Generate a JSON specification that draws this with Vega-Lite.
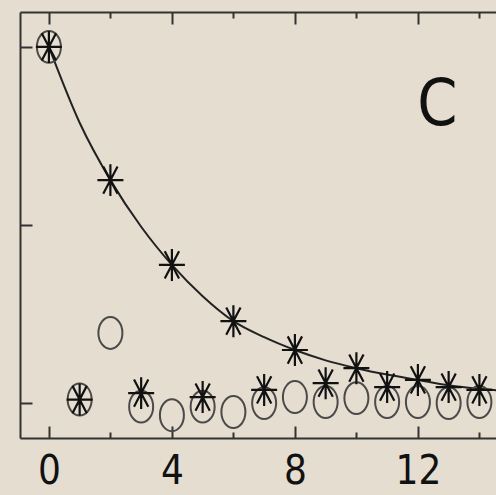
{
  "$schema": "https://vega.github.io/schema/vega-lite/v6.json",
  "width": 476,
  "height": 426,
  "autosize": "none",
  "padding": {"left": 20, "top": 12, "right": 0, "bottom": 57},
  "background": "#e5ddd0",
  "config": {
    "view": {"stroke": null},
    "axis": {
      "domainColor": "#333333",
      "domainWidth": 2,
      "tickColor": "#333333",
      "tickWidth": 2,
      "grid": false,
      "title": null,
      "labelFont": "Liberation Sans Narrow, DejaVu Sans Condensed, sans-serif",
      "labelFontSize": 40,
      "labelColor": "#111111"
    }
  },
  "datasets": {
    "curve": [
      {"x": 0, "y": 1.0},
      {"x": 1, "y": 0.787},
      {"x": 2, "y": 0.626},
      {"x": 3, "y": 0.495},
      {"x": 4, "y": 0.388},
      {"x": 5, "y": 0.3},
      {"x": 6, "y": 0.23},
      {"x": 7, "y": 0.185},
      {"x": 8, "y": 0.149},
      {"x": 9, "y": 0.12},
      {"x": 10, "y": 0.098},
      {"x": 11, "y": 0.08},
      {"x": 12, "y": 0.065},
      {"x": 13, "y": 0.05},
      {"x": 14, "y": 0.04},
      {"x": 14.54, "y": 0.036}
    ],
    "stars": [
      {"x": 0, "y": 1.0},
      {"x": 1, "y": 0.01},
      {"x": 2, "y": 0.626},
      {"x": 3, "y": 0.028},
      {"x": 4, "y": 0.388},
      {"x": 5, "y": 0.017},
      {"x": 6, "y": 0.23},
      {"x": 7, "y": 0.037},
      {"x": 8, "y": 0.149},
      {"x": 9, "y": 0.056},
      {"x": 10, "y": 0.098},
      {"x": 11, "y": 0.045},
      {"x": 12, "y": 0.065},
      {"x": 13, "y": 0.045},
      {"x": 14, "y": 0.037}
    ],
    "circles": [
      {"x": 0, "y": 1.0},
      {"x": 1, "y": 0.01},
      {"x": 2, "y": 0.197},
      {"x": 3, "y": -0.01},
      {"x": 4, "y": -0.034},
      {"x": 5, "y": -0.01},
      {"x": 6, "y": -0.025},
      {"x": 7, "y": 0.0},
      {"x": 8, "y": 0.017},
      {"x": 9, "y": 0.003},
      {"x": 10, "y": 0.014},
      {"x": 11, "y": 0.003},
      {"x": 12, "y": 0.003},
      {"x": 13, "y": 0.0},
      {"x": 14, "y": 0.003}
    ],
    "label": [
      {"x": 12.63, "y": 0.835, "text": "C"}
    ]
  },
  "layer": [
    {
      "data": {"name": "curve"},
      "mark": {"type": "line", "interpolate": "monotone", "stroke": "#222222", "strokeWidth": 2},
      "encoding": {
        "x": {"field": "x", "type": "quantitative", "scale": {"domain": [-0.94, 14.54], "nice": false, "zero": false},
              "axis": {"orient": "bottom", "values": [0, 4, 8, 12], "tickSize": -12, "labelPadding": 25, "labels": true, "domain": true}},
        "y": {"field": "y", "type": "quantitative", "scale": {"domain": [-0.098, 1.098], "nice": false, "zero": false},
              "axis": {"orient": "left", "values": [0, 0.5, 1], "tickSize": -12, "labels": false, "domain": true}}
      }
    },
    {
      "data": {"name": "circles"},
      "mark": {"type": "point", "shape": "M0,-1.33C0.552,-1.33,1,-0.735,1,0C1,0.735,0.552,1.33,0,1.33C-0.552,1.33,-1,0.735,-1,0C-1,-0.735,-0.552,-1.33,0,-1.33Z", "size": 576, "filled": false, "stroke": "#4a4a4a", "strokeWidth": 2, "opacity": 1},
      "encoding": {
        "x": {"field": "x", "type": "quantitative", "scale": {"domain": [-0.94, 14.54], "nice": false, "zero": false},
              "axis": {"orient": "bottom", "values": [2, 6, 10, 14], "tickSize": -6, "labels": false, "domain": false}},
        "y": {"field": "y", "type": "quantitative", "scale": {"domain": [-0.098, 1.098], "nice": false, "zero": false}, "axis": null}
      }
    },
    {
      "data": {"name": "stars"},
      "mark": {"type": "point", "shape": "M-1,0L1,0M0,-1.23L0,1.23M-0.55,-1.05L0.55,1.05M0.55,-1.05L-0.55,1.05", "size": 676, "filled": false, "stroke": "#111111", "strokeWidth": 2.2, "opacity": 1},
      "encoding": {
        "x": {"field": "x", "type": "quantitative", "scale": {"domain": [-0.94, 14.54], "nice": false, "zero": false},
              "axis": {"orient": "top", "values": [0, 4, 8, 12], "tickSize": -12, "labels": false, "domain": true}},
        "y": {"field": "y", "type": "quantitative", "scale": {"domain": [-0.098, 1.098], "nice": false, "zero": false}, "axis": null}
      }
    },
    {
      "data": {"name": "label"},
      "mark": {"type": "text", "font": "Liberation Sans Narrow, DejaVu Sans Condensed, sans-serif", "fontSize": 64, "fill": "#111111", "align": "center", "baseline": "middle"},
      "encoding": {
        "x": {"field": "x", "type": "quantitative", "scale": {"domain": [-0.94, 14.54], "nice": false, "zero": false},
              "axis": {"orient": "top", "values": [2, 6, 10, 14], "tickSize": -6, "labels": false, "domain": false}},
        "y": {"field": "y", "type": "quantitative", "scale": {"domain": [-0.098, 1.098], "nice": false, "zero": false}, "axis": null},
        "text": {"field": "text"}
      }
    }
  ],
  "resolve": {"axis": {"x": "independent", "y": "independent"}}
}
